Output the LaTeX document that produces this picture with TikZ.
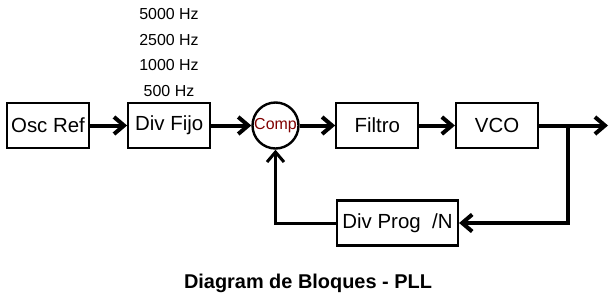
\documentclass[tikz,border=0pt]{standalone}
\usepackage{fontspec}
\setmainfont{Liberation Sans}
\usetikzlibrary{arrows.meta, positioning}
\definecolor{rojocomp}{RGB}{128, 0, 0}

\begin{document}
\begin{tikzpicture}[x=1bp, y=-1bp,
    bloque/.style={rectangle, draw=black, line width=2.2bp, fill=white, minimum width=82bp,
                   minimum height=45bp, inner sep=0pt, font=\fontsize{20.5}{24}\selectfont},
    comparador/.style={circle, draw=black, line width=2.4bp, fill=white, minimum size=46bp,
                   inner sep=0pt, text=rojocomp, font=\fontsize{16}{19}\selectfont},
    frecuencia/.style={font=\fontsize{16}{19}\selectfont},
    flecha/.style={-{Straight Barb[length=10bp, width=17bp]}, line width=4bp, line join=miter}
]
\useasboundingbox (0,0) rectangle (614,299);
\node (osc) [bloque] at (48,125.5) {Osc Ref};
\node (divfijo) [bloque, right=37bp of osc] {Div Fijo};
\node (comp) [comparador, right=40bp of divfijo] {Comp};
\node (filtro) [bloque, right=35.5bp of comp] {Filtro};
\node (vco) [bloque, right=35.5bp of filtro] {VCO};
\node (divprog) [bloque, minimum width=121bp] at (397.5,223) {Div Prog\ \ /N};
\node (f5000) [frecuencia] at (169,14) {5000 Hz};
\node (f2500) [frecuencia] at (169,40) {2500 Hz};
\node (f1000) [frecuencia] at (169,65) {1000 Hz};
\node (f500) [frecuencia] at (169,91) {500 Hz};
\node (titulo) [font=\fontsize{20}{24}\selectfont\bfseries] at (308,283) {Diagram de Bloques - PLL};
\coordinate (rama) at (568,125.5);
\coordinate (salida) at (608,125.5);
\draw [flecha] (osc) -- (divfijo);
\draw [flecha] (divfijo) -- (comp);
\draw [flecha] (comp) -- (filtro);
\draw [flecha] (filtro) -- (vco);
\draw [flecha] (vco) -- (salida);
\draw [flecha] (rama) |- (divprog);
\draw [flecha, line width=3bp] (divprog) -| (comp);
\end{tikzpicture}
\end{document}
